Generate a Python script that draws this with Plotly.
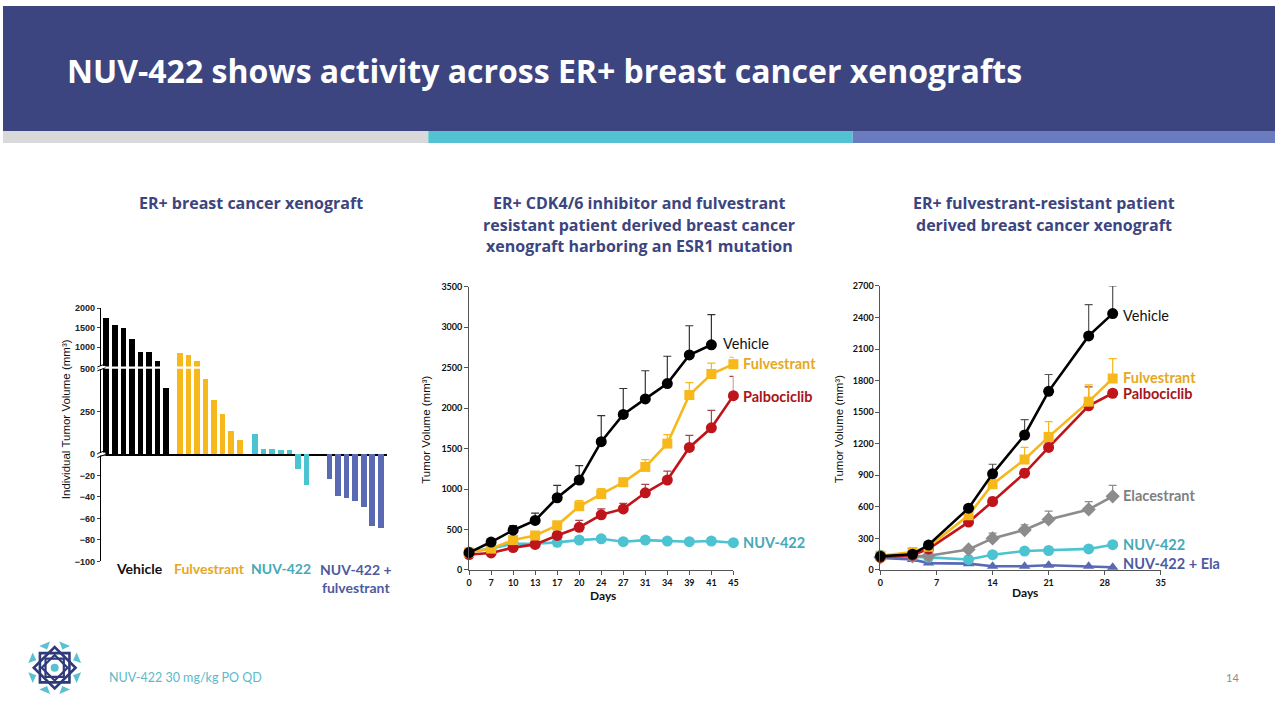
import math
import plotly.graph_objects as go

W, H = 1280, 720

# ---------------- Panel 1 : waterfall ----------------
wf_groups = ["Vehicle", "Fulvestrant", "NUV-422", "NUV-422 +<br>fulvestrant"]
wf_vehicle = [1740, 1560, 1490, 1200, 880, 865, 640, 385]
wf_fulvestrant = [840, 800, 645, 440, 320, 233, 134, 85]
wf_nuv422 = [117, 32, 32, 25, 21, -14, -29]
wf_combo = [-23, -39, -41, -44, -49, -67, -69]
wf_ticks_top = [1000, 1500, 2000]
wf_ticks_mid = [0, 250, 500]
wf_ticks_neg = [-20, -40, -60, -80, -100]

# ---------------- Panel 2 ----------------
p2_days = ["0", "7", "10", "13", "17", "20", "24", "27", "31", "34", "39", "41", "45"]
p2_vehicle = [215, 345, 491, 612, 892, 1111, 1585, 1922, 2113, 2303, 2656, 2782]
p2_vehicle_err = [0, 20, 56, 89, 154, 179, 321, 320, 348, 337, 361, 373]
p2_fulv = [215, 264, 369, 426, 551, 787, 937, 1083, 1273, 1561, 2161, 2421, 2542]
p2_fulv_err = [0, 10, 20, 20, 50, 69, 69, 52, 89, 110, 154, 134, 86]
p2_palbo = [190, 210, 276, 316, 426, 527, 681, 754, 953, 1111, 1513, 1756, 2153]
p2_palbo_err = [0, 10, 15, 20, 52, 85, 73, 69, 105, 109, 150, 215, 239]
p2_nuv = [223, 264, 324, 324, 341, 369, 385, 349, 369, 357, 349, 357, 337]
p2_nuv_err = [0, 15, 30, 30, 30, 40, 40, 30, 40, 30, 30, 35, 20]
p2_yticks = [0, 500, 1000, 1500, 2000, 2500, 3000, 3500]

# ---------------- Panel 3 ----------------
p3_days = [0, 4, 6, 11, 14, 18, 21, 26, 29]
p3_vehicle = [130, 150, 237, 587, 914, 1283, 1698, 2225, 2437]
p3_vehicle_err = [0, 10, 20, 30, 91, 146, 160, 297, 263]
p3_fulv = [135, 170, 220, 520, 815, 1050, 1265, 1600, 1820]
p3_fulv_err = [0, 0, 10, 20, 40, 115, 145, 160, 190]
p3_palbo = [120, 140, 200, 455, 650, 920, 1165, 1560, 1680]
p3_palbo_err = [0, 0, 10, 10, 40, 40, 40, 180, 0]
p3_ela = [120, 130, 135, 195, 300, 380, 480, 575, 700]
p3_ela_err = [0, 0, 0, 10, 50, 50, 80, 75, 105]
p3_nuv = [140, 130, 120, 100, 145, 180, 185, 200, 240]
p3_combo = [115, 100, 65, 60, 35, 35, 45, 35, 25]
p3_xticks = [0, 7, 14, 21, 28, 35]
p3_yticks = [0, 300, 600, 900, 1200, 1500, 1800, 2100, 2400, 2700]

# colours
NAVY = "#3C4580"
BLACK = "#000000"
GOLD = "#F7B81C"
GOLD_TXT = "#E5A823"
RED = "#C0141B"
RED_TXT = "#A81419"
TEAL = "#4CC3D1"
TEAL_TXT = "#45A9B8"
SLATE = "#5A69B4"
SLATE_TXT = "#4E5AA0"
GREY = "#8C8C8C"
GREY_TXT = "#7F7F7F"


def px(x):
    return x / W


def py(y):
    return 1 - y / H


def dom_x(a, b):
    return [px(a), px(b)]


def dom_y(top, bottom):
    return [py(bottom), py(top)]


fig = go.Figure()

# ---------------- Panel 1 bars ----------------
group_vals = [wf_vehicle, wf_fulvestrant, wf_nuv422, wf_combo]
group_cols = [BLACK, GOLD, TEAL, SLATE]
group_gaps = [0, 0.6, 0.8, 1.7]
xs_all, vals_all, cols_all = [], [], []
pos = -1.0
for vals, col, gap in zip(group_vals, group_cols, group_gaps):
    pos += gap
    for v in vals:
        pos += 1
        xs_all.append(pos)
        vals_all.append(v)
        cols_all.append(col)

for yax in ["y", "y2", "y3"]:
    fig.add_trace(go.Bar(x=xs_all, y=vals_all, marker=dict(color=cols_all, line=dict(width=0)),
                         width=0.66, xaxis="x", yaxis=yax, showlegend=False, hoverinfo="skip"))

tickfont1 = dict(family="Liberation Sans, Arial", size=9, color="#222222", weight="bold")
fig.update_layout(
    xaxis=dict(domain=dom_x(99, 386), range=[-0.57, 32.77], anchor="y2", showline=True,
               linecolor="black", linewidth=1.5, showticklabels=False, ticks="", showgrid=False,
               zeroline=False, fixedrange=True),
    yaxis=dict(domain=dom_y(307, 366), range=[500, 2000], tickvals=wf_ticks_top, anchor="x",
               showline=True, linecolor="black", linewidth=1.5, ticks="outside", ticklen=3,
               tickfont=tickfont1, showgrid=False, zeroline=False),
    yaxis2=dict(domain=dom_y(368.5, 455), range=[0, 500], tickvals=wf_ticks_mid, anchor="x",
                showline=True, linecolor="black", linewidth=1.5, ticks="outside", ticklen=3,
                tickfont=tickfont1, showgrid=False, zeroline=False),
    yaxis3=dict(domain=dom_y(455, 564), range=[-100, 0], tickvals=wf_ticks_neg, anchor="x",
                showline=True, linecolor="black", linewidth=1.5, ticks="outside", ticklen=3,
                tickfont=tickfont1, showgrid=False, zeroline=False),
)

# ---------------- Panel 2 ----------------
def add_series(xa, ya, x, y, err, color, symbol, size, errcol=None):
    kw = {}
    if err is not None:
        kw["error_y"] = dict(type="data", symmetric=False, array=err, arrayminus=[0] * len(err),
                             color=errcol or color, thickness=1.2, width=4)
    fig.add_trace(go.Scatter(x=x, y=y, mode="lines+markers", xaxis=xa, yaxis=ya,
                             line=dict(color=color, width=2.6),
                             marker=dict(color=color, symbol=symbol, size=size),
                             cliponaxis=False, showlegend=False, hoverinfo="skip", **kw))


add_series("x4", "y4", p2_days, p2_nuv, p2_nuv_err, TEAL, "circle", 11)
add_series("x4", "y4", p2_days, p2_palbo, p2_palbo_err, RED, "circle", 11, "#A5484B")
add_series("x4", "y4", p2_days, p2_fulv, p2_fulv_err, GOLD, "square", 10)
add_series("x4", "y4", p2_days[:len(p2_vehicle)], p2_vehicle, p2_vehicle_err, BLACK, "circle", 11, "#333333")

tickfont2 = dict(family="Lato", size=9, color="#111111", weight="bold")
fig.update_layout(
    xaxis4=dict(domain=dom_x(469, 735), type="category", categoryorder="array", categoryarray=p2_days,
                range=[0, 12], anchor="y4", showline=True, linecolor="#555555", linewidth=1,
                ticks="outside", ticklen=4, tickcolor="#555555", tickfont=tickfont2, showgrid=False,
                zeroline=False),
    yaxis4=dict(domain=dom_y(285, 572.7), range=[0, 3500], tickvals=p2_yticks, anchor="x4",
                showline=True, linecolor="#555555", linewidth=1, ticks="outside", ticklen=4,
                tickcolor="#555555", tickfont=tickfont2, showgrid=False, zeroline=False),
)

# ---------------- Panel 3 ----------------
add_series("x5", "y5", p3_days, p3_combo, None, SLATE, "triangle-up", 10)
add_series("x5", "y5", p3_days, p3_nuv, None, TEAL, "circle", 11)
add_series("x5", "y5", p3_days, p3_ela, p3_ela_err, GREY, "diamond", 11)
add_series("x5", "y5", p3_days, p3_palbo, p3_palbo_err, RED, "circle", 11, "#A5484B")
add_series("x5", "y5", p3_days, p3_fulv, p3_fulv_err, GOLD, "square", 10)
add_series("x5", "y5", p3_days, p3_vehicle, p3_vehicle_err, BLACK, "circle", 11, "#555555")

fig.update_layout(
    xaxis5=dict(domain=dom_x(883, 1165), range=[0, 35], tickvals=p3_xticks, anchor="y5",
                showline=True, linecolor="#555555", linewidth=1, ticks="outside", ticklen=4,
                tickcolor="#555555", tickfont=tickfont2, showgrid=False, zeroline=False),
    yaxis5=dict(domain=dom_y(284.3, 572.7), range=[0, 2700], tickvals=p3_yticks, anchor="x5",
                showline=True, linecolor="#555555", linewidth=1, ticks="outside", ticklen=4,
                tickcolor="#555555", tickfont=tickfont2, showgrid=False, zeroline=False),
)

# ---------------- Shapes: header, stripes ----------------
shapes = [
    dict(type="rect", xref="paper", yref="paper", x0=0, x1=1, y0=py(127), y1=1,
         fillcolor=NAVY, line=dict(width=0), layer="below"),
    dict(type="rect", xref="paper", yref="paper", x0=0, x1=px(428), y0=py(139), y1=py(127),
         fillcolor="#D9D9D9", line=dict(width=0), layer="below"),
    dict(type="rect", xref="paper", yref="paper", x0=px(428), x1=px(855), y0=py(139), y1=py(127),
         fillcolor="#53C3D3", line=dict(width=0), layer="below"),
    dict(type="rect", xref="paper", yref="paper", x0=px(855), x1=1, y0=py(139), y1=py(127),
         fillcolor="#6A7BBF", line=dict(width=0), layer="below"),
]

# axis break marks for the waterfall
for yb in (367, 455):
    shapes.append(dict(type="rect", xref="paper", yref="paper", x0=px(95), x1=px(103),
                       y0=py(yb + 1.5), y1=py(yb - 1.5), fillcolor="white", line=dict(width=0)))
    for d in (-2, 2):
        shapes.append(dict(type="line", xref="paper", yref="paper", x0=px(95), x1=px(103),
                           y0=py(yb + d + 1.5), y1=py(yb + d - 1.5), line=dict(color="black", width=1)))

# logo (decorative)
cx, cy, R = 52, 672, 27


def poly(points):
    s = "M " + " L ".join(f"{px(a):.5f},{py(b):.5f}" for a, b in points) + " Z"
    return s


for k in range(8):
    a0 = math.radians(k * 45 + 22.5)
    a1 = math.radians(k * 45 + 10)
    a2 = math.radians(k * 45 + 35)
    tri = [(cx + R * math.cos(a1), cy + R * math.sin(a1)),
           (cx + R * math.cos(a2), cy + R * math.sin(a2)),
           (cx + (R - 7) * math.cos(a0), cy + (R - 7) * math.sin(a0))]
    shapes.append(dict(type="path", xref="paper", yref="paper", path=poly(tri),
                       fillcolor="#5BC0CF", line=dict(width=0)))
for rot in (0, 45):
    for rr, wd in ((21, 2.6), (13, 2.2)):
        pts = [(cx + rr * math.cos(math.radians(rot + 45 + 90 * i)),
                cy + rr * math.sin(math.radians(rot + 45 + 90 * i))) for i in range(4)]
        shapes.append(dict(type="path", xref="paper", yref="paper", path=poly(pts),
                           fillcolor="rgba(0,0,0,0)", line=dict(color="#2F3A7A", width=wd)))
shapes.append(dict(type="circle", xref="paper", yref="paper", x0=px(cx - 4), x1=px(cx + 4),
                   y0=py(cy + 4), y1=py(cy - 4), fillcolor="#5BC0CF", line=dict(width=0)))

fig.update_layout(shapes=shapes)

# ---------------- Annotations ----------------
ann = []


def text(x, y, t, size, color, weight="normal", family="Lato", xanchor="center", angle=0, yanchor="middle"):
    ann.append(dict(x=px(x), y=py(y), xref="paper", yref="paper", text=t, showarrow=False,
                    xanchor=xanchor, yanchor=yanchor, textangle=angle,
                    font=dict(family=family, size=size, color=color, weight=weight)))


text(62, 65, "NUV-422 shows activity across ER+ breast cancer xenografts", 32, "white", "bold",
     family="Open Sans", xanchor="left")

SUB = "Open Sans"
text(250, 200, "ER+ breast cancer xenograft", 16, NAVY, "bold", family=SUB)
text(640, 200, "ER+ CDK4/6 inhibitor and fulvestrant", 16, NAVY, "bold", family=SUB)
text(640, 222, "resistant patient derived breast cancer", 16, NAVY, "bold", family=SUB)
text(640, 244, "xenograft harboring an ESR1 mutation", 16, NAVY, "bold", family=SUB)
text(1048, 200, "ER+ fulvestrant-resistant patient", 16, NAVY, "bold", family=SUB)
text(1048, 222, "derived breast cancer xenograft", 16, NAVY, "bold", family=SUB)

# panel 1 labels
text(63, 420, "Individual Tumor Volume (mm³)", 11.5, "#111111", family="Liberation Sans, Arial", angle=-90)
text(137, 571, wf_groups[0], 14, "#111111", "bold")
text(208, 571, wf_groups[1], 14, GOLD_TXT, "bold")
text(280, 571, wf_groups[2], 14, TEAL_TXT, "bold")
text(355, 581, wf_groups[3], 14, SLATE_TXT, "bold")

# panel 2 labels
text(426, 430, "Tumor Volume (mm³)", 11.5, "#111111", family="Liberation Sans, Arial", angle=-90)
text(604, 599, "Days", 12, "#111111", "bold")
text(723, 343, "Vehicle", 14.5, "#111111", xanchor="left")
text(743, 363, "Fulvestrant", 14.5, GOLD_TXT, "bold", xanchor="left")
text(743, 397, "Palbociclib", 14.5, RED_TXT, "bold", xanchor="left")
text(743, 545, "NUV-422", 14.5, TEAL_TXT, "bold", xanchor="left")

# panel 3 labels
text(842, 430, "Tumor Volume (mm³)", 11.5, "#111111", family="Liberation Sans, Arial", angle=-90)
text(1028, 596, "Days", 12, "#111111", "bold")
text(1125, 314, "Vehicle", 14.5, "#111111", xanchor="left")
text(1125, 377, "Fulvestrant", 14.5, GOLD_TXT, "bold", xanchor="left")
text(1125, 394, "Palbociclib", 14.5, RED_TXT, "bold", xanchor="left")
text(1125, 497, "Elacestrant", 14.5, GREY_TXT, "bold", xanchor="left")
text(1125, 547, "NUV-422", 14.5, TEAL_TXT, "bold", xanchor="left")
text(1125, 566, "NUV-422 + Ela", 14.5, SLATE_TXT, "bold", xanchor="left")

# footer
text(105, 682, "NUV-422 30 mg/kg PO QD", 12.5, "#5BBAC8", xanchor="left")
text(1246, 682, "14", 11, "#8C8C8C", xanchor="right")

fig.update_layout(
    annotations=ann,
    width=W, height=H, autosize=False,
    margin=dict(l=0, r=0, t=0, b=0),
    paper_bgcolor="white", plot_bgcolor="white",
    barmode="overlay", bargap=0,
    font=dict(family="Lato"),
)

fig.write_html(
    "out.html",
    config={"displayModeBar": False, "staticPlot": True},
    post_script=(
        "document.documentElement.style.margin='0px';"
        "document.documentElement.style.overflow='hidden';"
        "document.body.style.margin='0px';document.body.style.padding='0px';"
        "document.body.style.overflow='hidden';"
        "var gd=document.getElementById('{plot_id}');"
        "gd.style.position='fixed';gd.style.left='0px';gd.style.top='0px';"
    ),
)
